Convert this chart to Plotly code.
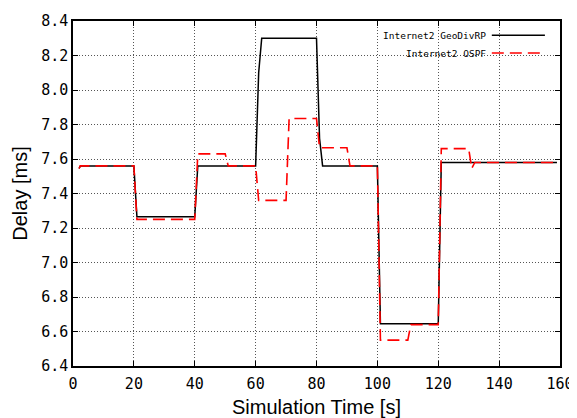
import plotly.graph_objects as go

# GeoDivRP series
geo_t = [2, 2.4, 20, 21, 40, 41, 60, 61, 62, 80, 81, 82, 100, 101, 120, 121, 159]
geo_delay = [7.545, 7.56, 7.56, 7.265, 7.265, 7.56, 7.56, 8.10, 8.30, 8.30, 7.72, 7.56,
             7.56, 6.645, 6.645, 7.58, 7.58]

# OSPF series
ospf_t = [2, 2.4, 20, 21, 40, 41, 50, 51, 60, 61, 70, 71, 80, 81, 90, 91, 100, 101,
          110, 111, 120, 121, 130, 131, 132, 159]
ospf_delay = [7.545, 7.56, 7.56, 7.25, 7.25, 7.63, 7.63, 7.56, 7.56, 7.36, 7.36, 7.835,
              7.835, 7.665, 7.665, 7.56, 7.56, 6.55, 6.55, 6.64, 6.64, 7.66, 7.66, 7.545,
              7.58, 7.58]

series_names = ["Internet2 GeoDivRP", "Internet2 OSPF"]
x_ticks = [0, 20, 40, 60, 80, 100, 120, 140, 160]
y_ticks = [6.4, 6.6, 6.8, 7.0, 7.2, 7.4, 7.6, 7.8, 8.0, 8.2, 8.4]

MONO = "DejaVu Sans Mono"
SANS = "Liberation Sans"
RED_DASH = "12px,6px"

fig = go.Figure()
fig.add_trace(go.Scatter(x=geo_t, y=geo_delay, mode="lines", name=series_names[0],
                         line=dict(color="black", width=1.5), showlegend=False))
fig.add_trace(go.Scatter(x=ospf_t, y=ospf_delay, mode="lines", name=series_names[1],
                         line=dict(color="#ff0000", width=1.6, dash=RED_DASH),
                         showlegend=False))

axis_common = dict(
    showgrid=True, gridcolor="#555555", griddash="1px,2px", gridwidth=1,
    showline=True, linecolor="black", linewidth=1.5, mirror="ticks",
    ticks="inside", ticklen=5, tickcolor="black", tickwidth=1,
    zeroline=False, automargin=False,
    tickfont=dict(family=MONO, size=15, color="black"),
)

fig.update_xaxes(range=[0, 160], tickvals=x_ticks, ticktext=[str(v) for v in x_ticks],
                 ticklabelstandoff=3,
                 title=dict(text="Simulation Time [s]", font=dict(family=SANS, size=20, color="black"),
                            standoff=10),
                 **axis_common)
fig.update_yaxes(range=[6.4, 8.4], tickvals=y_ticks, ticktext=[f"{v:.1f}" for v in y_ticks],
                 title=dict(text="Delay [ms]", font=dict(family=SANS, size=20, color="black"),
                            standoff=8),
                 **axis_common)

# Legend (gnuplot style: text then sample), with white box hiding grid
fig.add_shape(type="rect", xref="paper", yref="paper", x0=0.589, x1=0.997, y0=0.881, y1=0.997,
              fillcolor="white", line=dict(width=0), layer="between")
legend_y = [0.959, 0.907]
legend_colors = ["black", "#ff0000"]
legend_dash = ["solid", RED_DASH]
for name, ly, col, dsh in zip(series_names, legend_y, legend_colors, legend_dash):
    fig.add_annotation(x=0.852, y=ly, xref="paper", yref="paper", text=name, showarrow=False,
                       xanchor="right", yanchor="middle",
                       font=dict(family=MONO, size=9.5, color="black"))
    fig.add_shape(type="line", xref="paper", yref="paper", x0=0.860, x1=0.969, y0=ly, y1=ly,
                  line=dict(color=col, width=1.5, dash=dsh))

# page body adds an 8px offset, so the figure is sized/margined to compensate
fig.update_layout(
    width=569, height=410,
    margin=dict(l=65, r=17, t=13, b=52),
    plot_bgcolor="white", paper_bgcolor="white",
)

fig.write_html("out.html")
